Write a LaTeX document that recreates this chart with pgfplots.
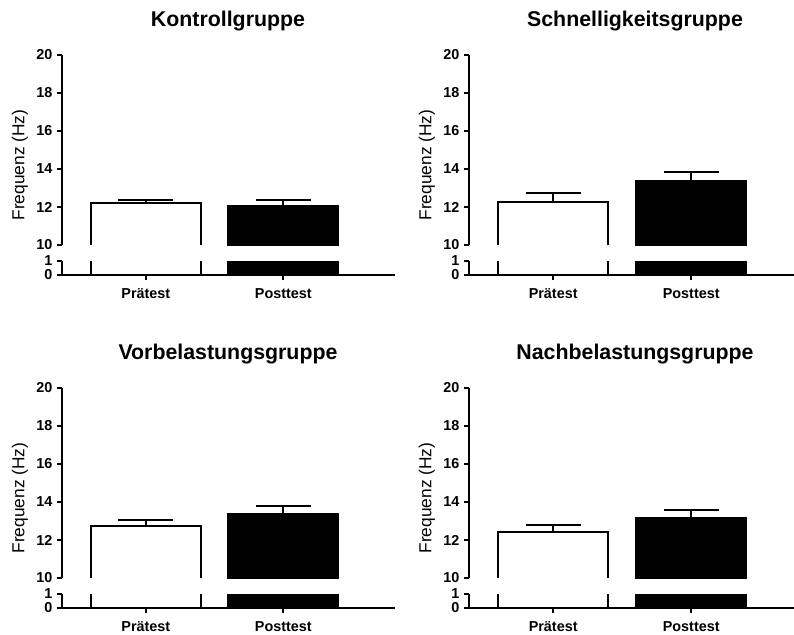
\documentclass[border=0pt]{standalone}
\usepackage{fontspec}
\setmainfont{Liberation Sans}
\setsansfont{Liberation Sans}
\usepackage{pgfplots}
\usepackage{pgfplotstable}
\pgfplotsset{compat=1.18}

% x = 0 Praetest, 1 Posttest; y = mean (Hz); err = upper error
\pgfplotstableread{
x y err
0 12.20 0.17
1 12.07 0.30
}\kontroll
\pgfplotstableread{
x y err
0 12.27 0.45
1 13.39 0.45
}\schnell
\pgfplotstableread{
x y err
0 12.74 0.31
1 13.35 0.45
}\vorbel
\pgfplotstableread{
x y err
0 12.41 0.38
1 13.18 0.38
}\nachbel

\pgfplotsset{
  brk/.style={
    scale only axis,
    anchor=south west,
    xmin=-0.61,
    axis line style={line width=1.3pt, black},
    every tick/.style={line width=1.3pt, black},
    tick align=outside,
    major tick length=3.75pt,
    ticklabel style={font=\fontsize{10.8}{12}\selectfont\bfseries},
    /pgf/number format/assume math mode=true,
    ybar,
  },
  upper/.style={brk, height=142.5pt, ymin=10, ymax=20,
    ytick={10,12,14,16,18,20}, xtick=\empty,
    axis x line=none, axis y line*=left},
  lower/.style={brk, height=10.5pt, ymin=0, ymax=1, ytick={0,1},
    axis x line*=bottom, axis y line*=left,
    xtick={0,1}, xticklabels={Prätest,Posttest},
    xticklabel style={anchor=north, text height=8pt, text depth=0pt, yshift=-2pt}},
  pre/.style={bar shift=0pt, bar width=82.5pt, draw=black, fill=white, line width=1.3pt},
  post/.style={bar shift=0pt, bar width=82.5pt, draw=black, fill=black, line width=1.3pt},
  errs/.style={
    error bars/y dir=plus, error bars/y explicit,
    error bars/error bar style={line width=1.3pt, black, solid},
    error bars/error mark options={rotate=90, line width=1.3pt, mark size=20.6pt, black, solid}},
}

% #1 x of y axis (px), #2 y of zero line (px), #3 axis width (pt), #4 xmax, #5 table, #6 title
\newcommand{\panel}[6]{%
  \begin{axis}[upper, at={({#1*0.75pt},{-(#2-30)*0.75pt})}, width=#3, xmax=#4]
    \addplot[pre, errs, dash pattern=on 0pt off 82.5pt on 1000pt,
      skip coords between index={1}{2}]
      table[x=x, y=y, y error=err] {#5};
    \addplot[post, errs, skip coords between index={0}{1}]
      table[x=x, y=y, y error=err] {#5};
  \end{axis}
  \begin{axis}[lower, at={({#1*0.75pt},{-#2*0.75pt})}, width=#3, xmax=#4]
    \addplot[pre, skip coords between index={1}{2}] table[x=x, y=y] {#5};
    \addplot[post, skip coords between index={0}{1}] table[x=x, y=y] {#5};
  \end{axis}
  \node[rotate=90, font=\fontsize{13}{15}\selectfont] at ({(#1-42)*0.75pt},{-(#2-110)*0.75pt}) {Frequenz (Hz)};
  \node[font=\fontsize{16}{19}\selectfont\bfseries] at ({(#1+166)*0.75pt},{-(#2-254)*0.75pt}) {#6};
}

\begin{document}
\begin{tikzpicture}
  \useasboundingbox (0,0) rectangle (595.5pt,-476.25pt);
  \panel{62}{275}{249.75pt}{1.812}{\kontroll}{Kontrollgruppe}
  \panel{469}{275}{244.5pt}{1.752}{\schnell}{Schnelligkeitsgruppe}
  \panel{62}{608}{249.75pt}{1.812}{\vorbel}{Vorbelastungsgruppe}
  \panel{469}{608}{244.5pt}{1.752}{\nachbel}{Nachbelastungsgruppe}
\end{tikzpicture}
\end{document}
